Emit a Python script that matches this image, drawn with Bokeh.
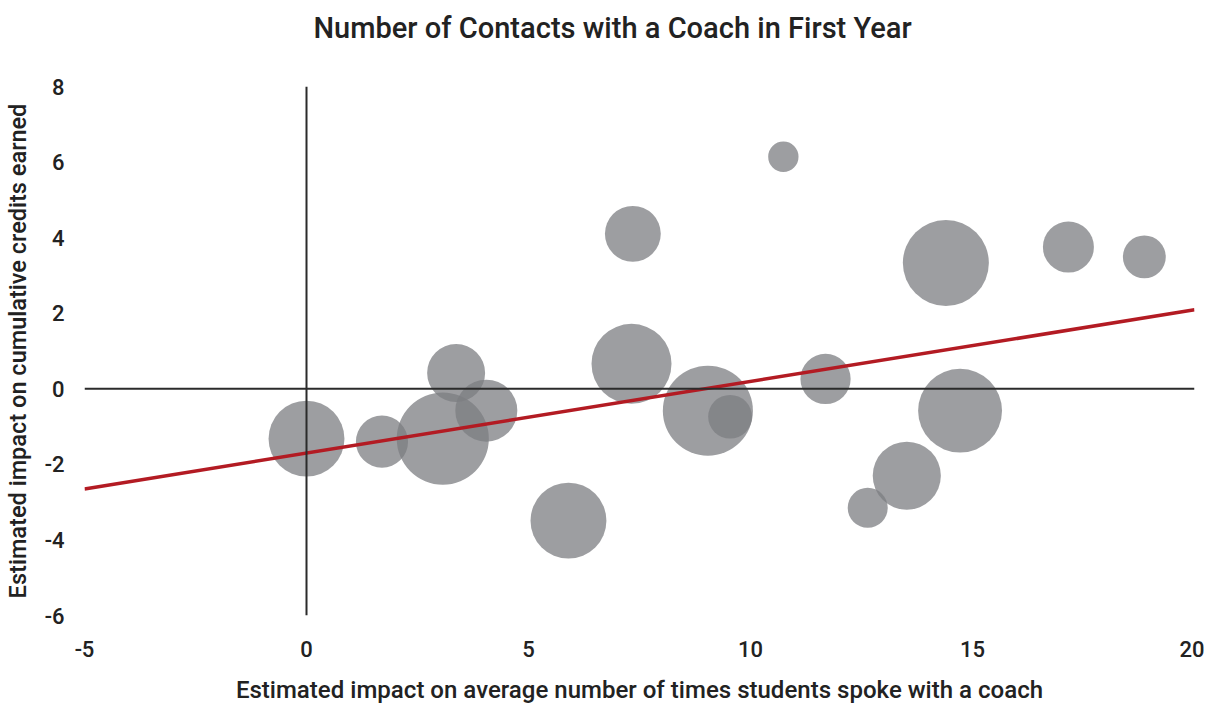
from bokeh.plotting import figure
from bokeh.models import Range1d, Span, FixedTicker, ColumnDataSource, Title
from bokeh.embed import file_html
from bokeh.resources import INLINE
import numpy as np

# Data
impact_contacts = [0.0, 1.70, 3.07, 3.37, 4.05, 5.90, 7.35, 7.32, 9.04, 9.54,
                   10.74, 11.69, 12.64, 13.52, 14.40, 14.72, 17.16, 18.87]
impact_credits = [-1.32, -1.40, -1.32, 0.42, -0.58, -3.49, 4.10, 0.66, -0.58, -0.74,
                  6.14, 0.26, -3.15, -2.30, 3.33, -0.58, 3.75, 3.49]
bubble_weight = [14.4, 6.8, 21.2, 8.4, 9.6, 14.4, 7.8, 16.0, 20.3, 4.8,
                 2.3, 6.3, 4.0, 11.6, 18.5, 17.6, 6.5, 4.6]
trend_x = [-5, 20]
trend_y = [-2.65, 2.09]
x_ticks = [-5, 0, 5, 10, 15, 20]
y_ticks = [-6, -4, -2, 0, 2, 4, 6, 8]
title_text = "Number of Contacts with a Coach in First Year"

FONT = "Roboto Medium"
TXT = "#222222"

p = figure(width=1204, height=706, output_backend="svg", toolbar_location=None,
           x_range=Range1d(-5, 20), y_range=Range1d(-6, 8), title=title_text)
p.min_border_left = 76
p.min_border_right = 10
p.min_border_top = 86
p.min_border_bottom = 80
p.outline_line_color = None
p.grid.visible = False
p.background_fill_color = "white"

p.title.text_font = FONT
p.title.text_font_size = "29px"
p.title.text_font_style = "normal"
p.title.text_color = TXT
p.title.align = "left"
p.title.offset = 229
p.title.standoff = 14

# invisible spacer between the title and the plot frame
p.add_layout(Title(text=" ", text_font_size="1px", standoff=32), "above")

for ax in (p.xaxis[0], p.yaxis[0]):
    ax.axis_line_color = None
    ax.major_tick_line_color = None
    ax.minor_tick_line_color = None
    ax.major_tick_out = 0
    ax.major_tick_in = 0
    ax.minor_tick_out = 0
    ax.major_label_text_font = FONT
    ax.major_label_text_font_size = "22px"
    ax.major_label_text_font_style = "normal"
    ax.major_label_text_color = TXT
    ax.axis_label_text_font = FONT
    ax.axis_label_text_font_style = "normal"
    ax.axis_label_text_color = TXT

p.xaxis.axis_label_text_font_size = "24px"
p.yaxis.axis_label_text_font_size = "23.5px"
p.xaxis.ticker = FixedTicker(ticks=x_ticks)
p.yaxis.ticker = FixedTicker(ticks=y_ticks)
p.xaxis.major_label_overrides = {t: str(t) for t in x_ticks}
p.yaxis.major_label_overrides = {t: str(t) for t in y_ticks}
p.xaxis.axis_label = "Estimated impact on average number of times students spoke with a coach"
p.yaxis.axis_label = "Estimated impact on cumulative credits earned"
p.xaxis.major_label_standoff = 25
p.yaxis.major_label_standoff = 20
p.xaxis.axis_label_standoff = 16
p.yaxis.axis_label_standoff = 10

# Zero cross lines
p.add_layout(Span(location=0, dimension="height", line_color="#2b2b2b", line_width=2))
p.add_layout(Span(location=0, dimension="width", line_color="#2b2b2b", line_width=2))

src = ColumnDataSource(dict(x=impact_contacts, y=impact_credits,
                            s=[20 * np.sqrt(w) for w in bubble_weight]))
p.scatter("x", "y", size="s", source=src, fill_color="#7c7d81", fill_alpha=0.75,
          line_color=None)

p.line(trend_x, trend_y, line_color="#b31b23", line_width=3.5)

open("out.html", "w").write(file_html(p, INLINE))
